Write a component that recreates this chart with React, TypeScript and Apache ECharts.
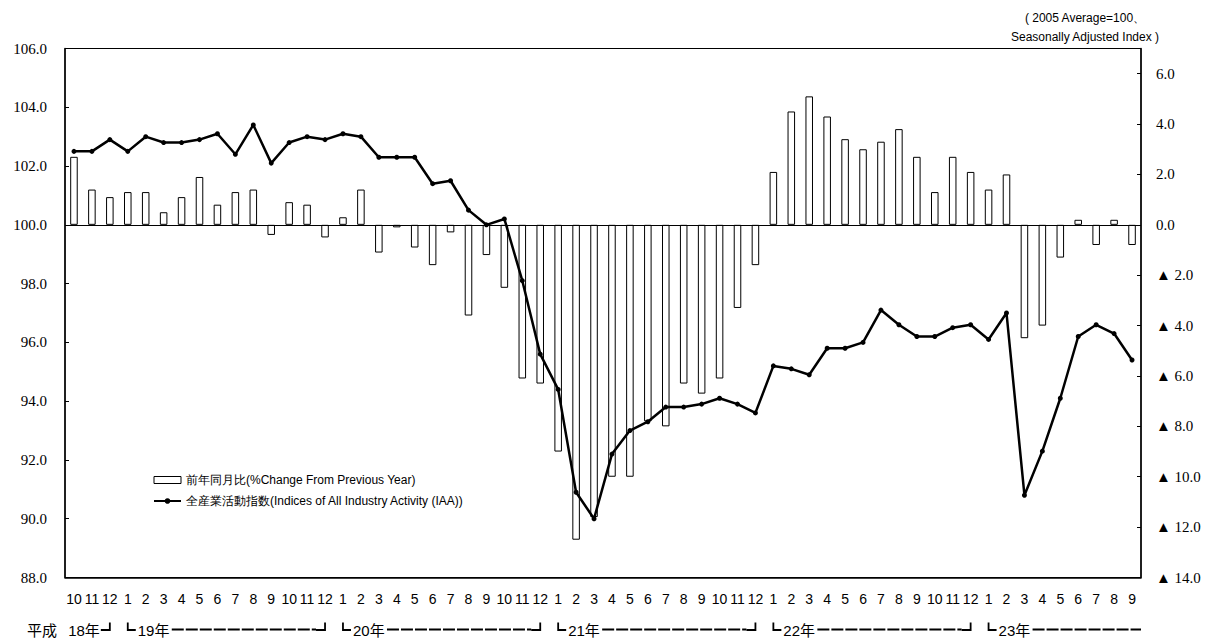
import React, { useEffect, useRef } from 'react';
import * as echarts from 'echarts';

// Categories: 平成 year . month
const categories = [
  '18.10', '18.11', '18.12',
  '19.1', '19.2', '19.3', '19.4', '19.5', '19.6', '19.7', '19.8', '19.9', '19.10', '19.11', '19.12',
  '20.1', '20.2', '20.3', '20.4', '20.5', '20.6', '20.7', '20.8', '20.9', '20.10', '20.11', '20.12',
  '21.1', '21.2', '21.3', '21.4', '21.5', '21.6', '21.7', '21.8', '21.9', '21.10', '21.11', '21.12',
  '22.1', '22.2', '22.3', '22.4', '22.5', '22.6', '22.7', '22.8', '22.9', '22.10', '22.11', '22.12',
  '23.1', '23.2', '23.3', '23.4', '23.5', '23.6', '23.7', '23.8', '23.9',
];

// 前年同月比 (%), right axis
const yoyChange = [
  2.7, 1.4, 1.1,
  1.3, 1.3, 0.5, 1.1, 1.9, 0.8, 1.3, 1.4, -0.4, 0.9, 0.8, -0.5,
  0.3, 1.4, -1.1, -0.1, -0.9, -1.6, -0.3, -3.6, -1.2, -2.5, -6.1, -6.3,
  -9.0, -12.5, -11.6, -10.0, -10.0, -7.8, -8.0, -6.3, -6.7, -6.1, -3.3, -1.6,
  2.1, 4.5, 5.1, 4.3, 3.4, 3.0, 3.3, 3.8, 2.7, 1.3, 2.7, 2.1,
  1.4, 2.0, -4.5, -4.0, -1.3, 0.2, -0.8, 0.2, -0.8,
];

// 全産業活動指数, left axis
const iaaIndex = [
  102.5, 102.5, 102.9,
  102.5, 103.0, 102.8, 102.8, 102.9, 103.1, 102.4, 103.4, 102.1, 102.8, 103.0, 102.9,
  103.1, 103.0, 102.3, 102.3, 102.3, 101.4, 101.5, 100.5, 100.0, 100.2, 98.1, 95.6,
  94.4, 90.9, 90.0, 92.2, 93.0, 93.3, 93.8, 93.8, 93.9, 94.1, 93.9, 93.6,
  95.2, 95.1, 94.9, 95.8, 95.8, 96.0, 97.1, 96.6, 96.2, 96.2, 96.5, 96.6,
  96.1, 97.0, 90.8, 92.3, 94.1, 96.2, 96.6, 96.3, 95.4,
];

const seriesNames = [
  '前年同月比(%Change From Previous Year)',
  '全産業活動指数(Indices of All Industry Activity (IAA))',
];

const eraPrefix = '平成';
const eraYears = [
  { label: '18年', from: '18.10', to: '18.12', open: false, close: true },
  { label: '19年', from: '19.1', to: '19.12', open: true, close: true },
  { label: '20年', from: '20.1', to: '20.12', open: true, close: true },
  { label: '21年', from: '21.1', to: '21.12', open: true, close: true },
  { label: '22年', from: '22.1', to: '22.12', open: true, close: true },
  { label: '23年', from: '23.1', to: '23.9', open: true, close: false },
];

const noteLines = ['( 2005 Average=100、', 'Seasonally Adjusted Index )'];

const SANS = 'Liberation Sans';
const SERIF = 'Liberation Serif';

export default function App() {
  const ref = useRef<HTMLDivElement>(null);

  useEffect(() => {
    if (!ref.current) return;
    const chart = echarts.init(ref.current, undefined, { renderer: 'svg' });

    const axisLineStyle = { color: '#000', width: 1.5 };

    const option: any = {
      animation: false,
      backgroundColor: '#fff',
      textStyle: { fontFamily: SANS },
      grid: {
        left: 65,
        right: 74,
        top: 48.5,
        bottom: 63.5,
        show: true,
        borderColor: '#000',
        borderWidth: 1,
        backgroundColor: 'transparent',
      },
      legend: {
        orient: 'vertical',
        left: 148,
        top: 469,
        itemWidth: 27,
        itemHeight: 7,
        itemGap: 9,
        textStyle: { fontSize: 12, color: '#000', fontFamily: SANS },
        data: [
          { name: seriesNames[0], icon: 'rect', itemStyle: { color: '#fff', borderColor: '#000', borderWidth: 1 } },
          { name: seriesNames[1] },
        ],
      },
      xAxis: {
        type: 'category',
        data: categories,
        boundaryGap: true,
        axisLine: { onZero: false, lineStyle: axisLineStyle },
        axisTick: { show: false },
        splitLine: { show: false },
        axisLabel: {
          interval: 0,
          color: '#000',
          fontSize: 14,
          fontFamily: SANS,
          margin: 14,
          hideOverlap: false,
          formatter: (v: string) => v.split('.')[1],
        },
      },
      yAxis: [
        {
          type: 'value',
          min: 88,
          max: 106,
          interval: 2,
          position: 'left',
          axisLine: { show: true, lineStyle: axisLineStyle },
          axisTick: { show: true, inside: true, length: 4, lineStyle: { color: '#000', width: 1 } },
          splitLine: { show: false },
          axisLabel: {
            color: '#000',
            fontSize: 15,
            fontFamily: SERIF,
            margin: 18,
            formatter: (v: number) => v.toFixed(1),
          },
        },
        {
          type: 'value',
          min: -14,
          max: 7,
          interval: 2,
          position: 'right',
          axisLine: { show: true, lineStyle: axisLineStyle },
          axisTick: { show: true, inside: true, length: 4, lineStyle: { color: '#000', width: 1 } },
          splitLine: { show: false },
          axisLabel: {
            color: '#000',
            fontSize: 15,
            fontFamily: SERIF,
            margin: 15,
            align: 'left',
            formatter: (v: number) => {
              if (v > 6.5) return '';
              if (v < 0) return '▲ ' + (-v).toFixed(1);
              return v.toFixed(1);
            },
          },
        },
      ],
      series: [
        {
          name: seriesNames[0],
          type: 'bar',
          yAxisIndex: 1,
          data: yoyChange,
          barWidth: '42%',
          itemStyle: { color: '#fff', borderColor: '#000', borderWidth: 1 },
          markLine: {
            silent: true,
            symbol: 'none',
            label: { show: false },
            lineStyle: { color: '#000', width: 1, type: 'solid' },
            data: [{ yAxis: 0 }],
          },
        },
        {
          name: seriesNames[1],
          type: 'line',
          yAxisIndex: 0,
          data: iaaIndex,
          symbol: 'circle',
          symbolSize: 5,
          lineStyle: { color: '#000', width: 2.5 },
          itemStyle: { color: '#000' },
          z: 5,
        },
      ],
    };

    chart.setOption(option);

    // Era row beneath month labels, positioned through the category axis scale
    const px = (c: string) => chart.convertToPixel({ xAxisIndex: 0 }, c) as number;
    const band = px(categories[1]) - px(categories[0]);
    const axisBottom = chart.convertToPixel({ yAxisIndex: 0 }, 88) as number;
    const yMid = axisBottom + 52.5;
    const yBot = yMid;
    const yTop = yMid - 7.5;
    const textW = 31;
    const stroke = { stroke: '#000', lineWidth: 1.8, fill: 'none' };
    const eraFont = `15px ${SANS}, Noto Sans CJK JP, sans-serif`;
    const graphics: any[] = [];

    graphics.push({
      type: 'text',
      x: px(categories[0]) - band / 2 - 8,
      y: yMid,
      style: { text: eraPrefix, font: eraFont, fill: '#000', textAlign: 'right', textVerticalAlign: 'middle' },
    });

    eraYears.forEach((e) => {
      const xs = px(e.from);
      const xe = px(e.to);
      if (e.open) {
        graphics.push({ type: 'polyline', shape: { points: [[xs, yTop], [xs, yBot], [xs + 8, yBot]] }, style: stroke });
        graphics.push({
          type: 'text',
          x: xs + 10,
          y: yMid,
          style: { text: e.label, font: eraFont, fill: '#000', textAlign: 'left', textVerticalAlign: 'middle' },
        });
        const dashStart = xs + 10 + textW + 3;
        const dashEnd = e.close ? xe - 9 : xe + band / 2;
        graphics.push({
          type: 'line',
          shape: { x1: dashStart, y1: yBot - 0.5, x2: dashEnd, y2: yBot - 0.5 },
          style: { stroke: '#000', lineWidth: 2, lineDash: [12, 2] },
        });
      } else {
        graphics.push({
          type: 'text',
          x: xe - 10,
          y: yMid,
          style: { text: e.label, font: eraFont, fill: '#000', textAlign: 'right', textVerticalAlign: 'middle' },
        });
      }
      if (e.close) {
        graphics.push({ type: 'polyline', shape: { points: [[xe - 9, yBot], [xe, yBot], [xe, yTop]] }, style: stroke });
      }
    });

    graphics.push({
      type: 'text',
      x: 1085,
      y: 8.5,
      style: {
        text: noteLines.join('\n'),
        font: `12px ${SANS}`,
        fill: '#000',
        textAlign: 'center',
        textVerticalAlign: 'top',
        lineHeight: 19,
      },
    });

    chart.setOption({ graphic: graphics });

    return () => chart.dispose();
  }, []);

  return <div ref={ref} style={{ width: 1215, height: 641, position: 'absolute', left: 0, top: 0 }} />;
}
